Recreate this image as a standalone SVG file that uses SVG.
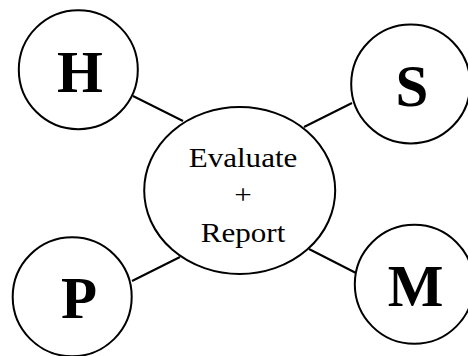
<svg xmlns="http://www.w3.org/2000/svg" width="468" height="356" viewBox="0 0 468 356">
<style>
.node{fill:#fff;stroke:#000;stroke-width:2}
.edge{stroke:#000;stroke-width:2;fill:none}
.big{font-family:"Liberation Serif","Times New Roman",serif;font-weight:bold;font-size:59px;text-anchor:middle;fill:#000}
.mid{font-family:"Liberation Serif","Times New Roman",serif;font-size:28px;text-anchor:middle;fill:#000}
</style>
<rect width="468" height="356" fill="#fff"/>
<g id="connectors">
<line class="edge" x1="133" y1="96" x2="183" y2="121"/>
<line class="edge" x1="304" y1="127" x2="352" y2="103"/>
<line class="edge" x1="132" y1="281" x2="180" y2="257"/>
<line class="edge" x1="309" y1="249" x2="356" y2="273"/>
</g>
<g id="center">
<ellipse class="node" cx="239.7" cy="190.5" rx="95.5" ry="83.5"/>
<g transform="translate(243,0) scale(1.11,1)">
<text class="mid" x="0" y="167">Evaluate</text>
<text class="mid" x="0" y="204.5">+</text>
<text class="mid" x="0" y="242.5">Report</text>
</g>
</g>
<g id="H">
<circle class="node" cx="78.3" cy="69.7" r="59.5"/>
<text class="big" x="80" y="92">H</text>
</g>
<g id="S">
<circle class="node" cx="410.7" cy="84" r="59.5"/>
<text class="big" x="412" y="106">S</text>
</g>
<g id="P">
<circle class="node" cx="72.2" cy="296.8" r="59.5"/>
<text class="big" x="79" y="318">P</text>
</g>
<g id="M">
<circle class="node" cx="414.3" cy="284.3" r="59.5"/>
<text class="big" x="415.6" y="306">M</text>
</g>
</svg>
